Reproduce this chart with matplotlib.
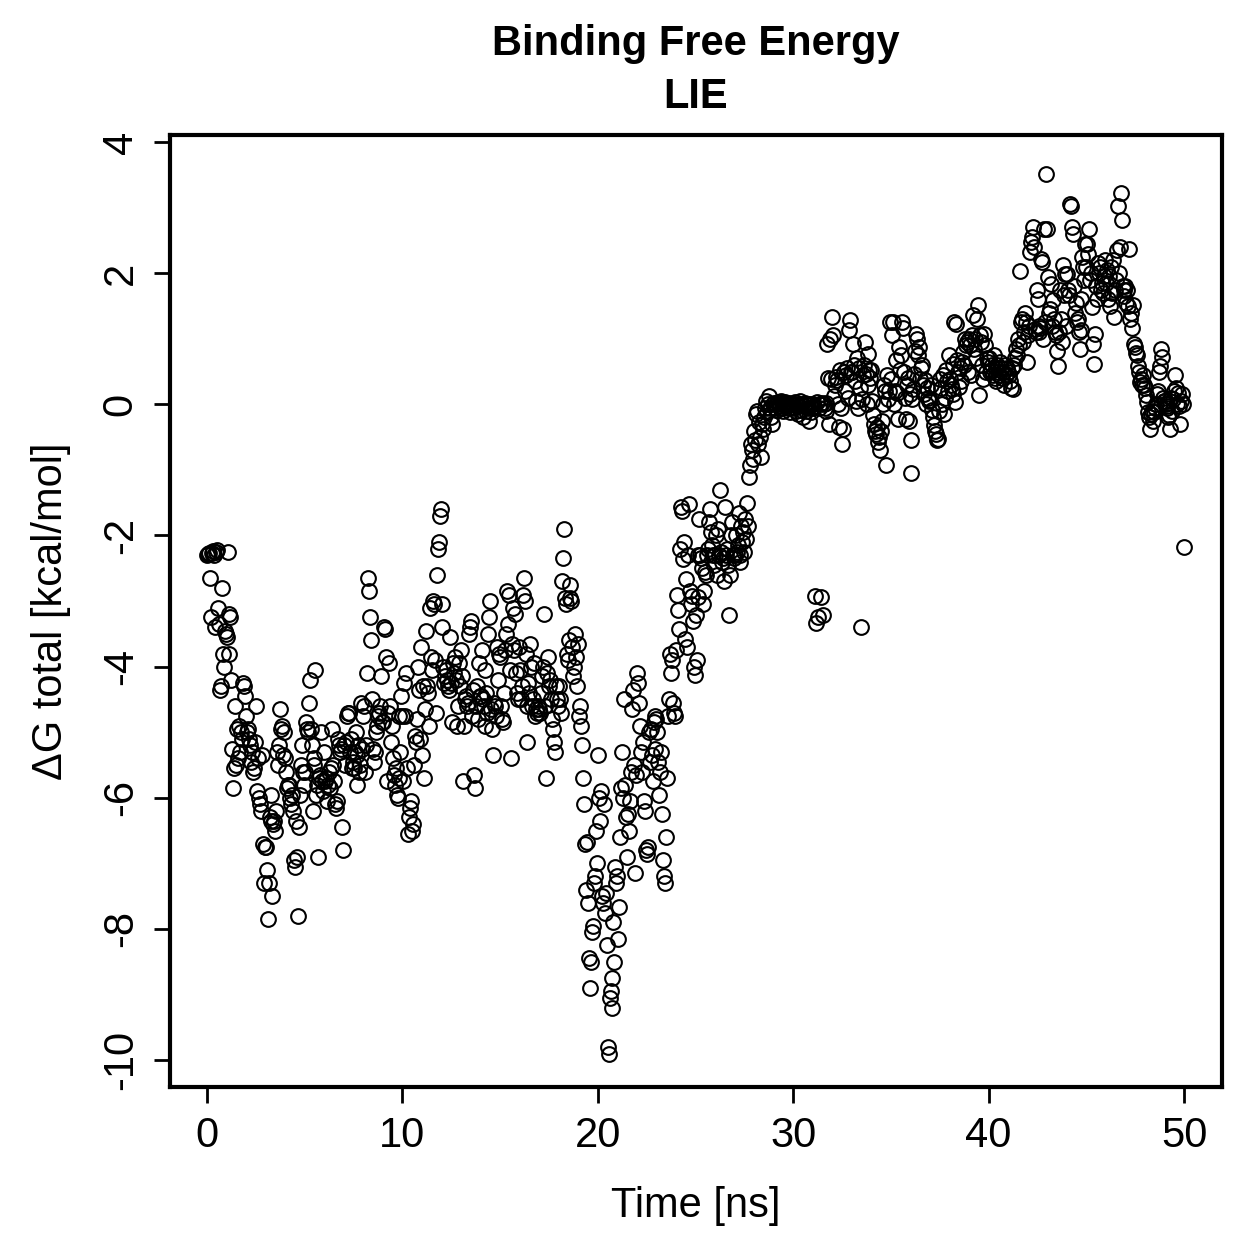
import numpy as np
import matplotlib
matplotlib.use('Agg')
import matplotlib.pyplot as plt

plt.rcParams['font.family'] = ['Liberation Sans', 'DejaVu Sans']
plt.rcParams['axes.unicode_minus'] = False

# LIE binding free energy, one frame every 0.05 ns (20 frames per ns)
dt_ns = 0.05

dg_0_10 = [
    -2.3, -2.28, -2.26, -2.65, -3.25, -2.27, -2.24, -2.3, -3.4, -2.25, -2.22, -3.1, -3.35, -4.35, -4.3, -2.8, -3.8, -4.0, -3.45, -3.5,
    -3.55, -2.25, -3.8, -3.2, -3.25, -4.2, -5.25, -5.85, -5.55, -4.6, -5.5, -4.95, -5.4, -4.9, -5.3, -5.0, -5.1, -4.25, -4.3, -4.45,
    -4.75, -5.0, -4.95, -5.1, -5.2, -5.45, -5.3, -5.6, -5.55, -5.15, -4.6, -5.9, -5.4, -6.0, -6.1, -6.2, -5.35, -6.7, -7.3, -6.75,
    -6.75, -7.1, -7.85, -7.3, -6.3, -5.95, -6.35, -7.5, -6.4, -6.35, -6.5, -6.2, -5.3, -5.5, -5.2, -4.65, -4.95, -4.9, -5.35, -5.0,
    -5.4, -5.6, -5.85, -5.8, -5.8, -6.0, -6.1, -5.95, -6.2, -6.95, -7.05, -6.35, -6.9, -7.8, -6.45, -5.95, -5.5, -5.2, -5.6, -5.8,
    -5.6, -4.85, -4.95, -5.0, -4.55, -4.2, -4.95, -5.2, -6.2, -5.5, -5.4, -4.05, -5.95, -5.8, -6.9, -5.7, -5.65, -5.0, -5.75, -5.9,
    -5.3, -5.75, -5.7, -6.05, -5.8, -5.6, -5.85, -5.55, -4.95, -5.5, -5.75, -6.1, -6.15, -6.05, -5.1, -5.2, -5.3, -5.25, -6.45, -6.8,
    -5.2, -5.5, -5.15, -4.75, -4.7, -4.7, -5.3, -5.1, -5.55, -5.45, -5.55, -5.3, -5.0, -5.8, -5.35, -5.2, -5.6, -5.5, -4.55, -5.25,
    -4.75, -4.6, -5.6, -5.2, -4.1, -2.65, -2.85, -3.25, -3.6, -4.5, -5.25, -5.45, -5.3, -5.0, -4.9, -4.75, -4.7, -4.6, -4.15, -4.85,
    -4.85, -3.4, -3.42, -3.85, -5.75, -4.7, -3.95, -4.6, -5.15, -4.9, -5.4, -5.65, -5.8, -5.55, -5.95, -6.0, -5.7, -4.75, -5.3, -4.45,
]

dg_10_20 = [
    -4.75, -5.75, -4.25, -4.75, -4.1, -5.55, -6.55, -6.3, -6.15, -6.05, -6.5, -6.4, -5.5, -5.05, -5.15, -4.8, -4.0, -4.35, -5.1, -3.7,
    -5.35, -4.3, -5.7, -4.65, -3.45, -4.3, -4.4, -4.9, -3.1, -3.85, -4.05, -3.0, -3.05, -3.9, -4.7, -2.6, -2.2, -2.1, -1.7, -1.6,
    -3.4, -3.05, -4.0, -4.25, -4.15, -4.05, -4.2, -4.3, -4.35, -3.55, -4.25, -4.85, -3.95, -4.1, -3.85, -4.2, -4.9, -4.6, -3.95, -4.3,
    -3.75, -4.15, -5.75, -4.9, -4.5, -4.45, -4.6, -4.55, -3.5, -3.4, -3.3, -4.75, -4.35, -5.65, -5.85, -4.6, -4.3, -4.8, -3.95, -4.45,
    -4.45, -3.75, -4.5, -4.6, -4.05, -4.9, -4.4, -4.7, -3.5, -3.25, -3.0, -4.65, -4.95, -5.35, -4.55, -4.6, -4.75, -3.7, -4.2, -3.8,
    -3.85, -4.6, -4.8, -4.85, -4.4, -3.75, -3.5, -2.85, -3.35, -2.9, -4.05, -5.4, -3.65, -3.1, -3.75, -3.2, -4.1, -4.4, -4.5, -3.7,
    -4.05, -4.5, -4.3, -2.9, -2.65, -3.0, -3.8, -4.6, -5.15, -4.25, -4.4, -3.65, -4.0, -4.6, -4.5, -3.95, -4.75, -4.65, -4.7, -4.6,
    -4.65, -4.7, -4.4, -4.15, -4.0, -3.2, -4.6, -5.7, -4.1, -3.85, -4.3, -4.2, -4.5, -4.8, -4.95, -5.15, -5.3, -4.3, -4.5, -4.6,
    -4.3, -4.5, -4.7, -2.7, -2.35, -1.9, -2.95, -3.05, -3.8, -3.9, -3.6, -2.95, -2.75, -3.0, -3.7, -4.15, -4.0, -3.5, -3.85, -4.3,
    -3.65, -4.75, -4.6, -4.9, -5.2, -5.7, -6.1, -6.7, -7.4, -6.68, -7.6, -8.45, -8.9, -8.5, -8.05, -7.95, -7.3, -7.2, -6.5, -7.0,
]

dg_20_30 = [
    -5.35, -6.0, -6.35, -5.9, -7.5, -7.6, -6.1, -7.75, -7.45, -8.25, -9.8, -9.9, -9.05, -8.95, -9.2, -8.75, -7.9, -8.5, -7.05, -7.3,
    -7.2, -8.15, -7.67, -6.6, -5.85, -5.3, -6.0, -4.5, -5.8, -6.3, -6.9, -6.25, -6.5, -6.05, -5.6, -4.65, -4.35, -5.5, -7.15, -5.65,
    -4.1, -4.25, -4.55, -4.9, -5.3, -5.6, -5.15, -6.05, -6.2, -6.8, -6.85, -6.75, -5.0, -5.45, -4.95, -5.35, -5.75, -4.85, -5.25, -4.75,
    -4.8, -5.0, -5.45, -5.95, -5.6, -5.3, -6.25, -6.95, -7.2, -7.3, -6.6, -5.7, -4.75, -4.5, -3.8, -4.1, -3.9, -4.55, -4.7, -4.75,
    -3.75, -2.9, -3.13, -3.43, -2.21, -1.57, -1.62, -2.36, -2.1, -3.58, -2.67, -3.7, -2.3, -1.52, -2.84, -3.05, -2.92, -3.3, -4.0, -4.13,
    -3.22, -3.9, -2.94, -2.3, -1.75, -2.3, -2.35, -2.5, -3.05, -2.84, -2.56, -2.6, -2.3, -2.2, -1.8, -1.6, -1.95, -2.15, -2.3, -2.45,
    -2.3, -2.0, -2.61, -1.9, -2.3, -1.3, -2.25, -2.4, -2.35, -2.69, -1.57, -2.3, -2.2, -2.45, -3.22, -2.6, -2.0, -1.8, -2.3, -2.35,
    -2.3, -2.0, -2.25, -2.15, -1.65, -2.3, -2.4, -1.85, -2.1, -1.95, -2.25, -1.75, -2.05, -1.5, -1.85, -1.11, -0.93, -0.61, -0.69, -0.84,
    -0.4, -0.55, -0.15, -0.1, -0.6, -0.27, -0.5, -0.8, -0.3, -0.38, -0.2, -0.05, 0.05, -0.12, 0.0, 0.12, -0.05, -0.2, -0.3, 0.0,
    0.02, -0.05, 0.0, -0.08, 0.03, 0.0, -0.02, 0.05, -0.05, 0.01, -0.1, 0.0, 0.03, -0.03, 0.0, -0.06, 0.02, -0.12, 0.0, -0.04,
]

dg_30_40 = [
    0.0, -0.05, 0.03, -0.1, 0.0, -0.15, -0.02, 0.05, -0.08, 0.0, -0.2, -0.03, 0.02, -0.1, 0.0, -0.05, -0.25, 0.0, -0.12, -0.05,
    0.0, -0.02, -2.92, -3.33, 0.03, -3.25, -0.05, 0.0, -2.94, 0.02, -3.22, 0.0, -0.05, 0.02, -0.1, 0.92, 0.4, -0.3, 0.99, 0.38,
    1.33, 1.05, 0.13, 0.3, 0.41, 0.37, 0.0, -0.35, 0.53, -0.05, -0.6, -0.37, 0.49, 0.2, 0.45, 0.55, 0.1, 1.14, 1.28, 0.5,
    0.49, 0.92, 0.6, 0.35, 0.05, 0.7, -0.05, 0.55, 0.25, -3.4, 0.08, 0.45, 0.6, 0.95, 0.46, 0.0, 0.76, 0.3, 0.52, 0.4,
    0.52, 0.05, -0.17, -0.3, -0.4, -0.45, -0.35, -0.58, -0.5, -0.7, -0.4, -0.25, 0.0, 0.3, 0.2, -0.93, 0.45, 0.08, 0.21, 1.25,
    0.38, 1.05, 1.25, 0.0, 0.21, 0.67, 0.18, -0.23, 0.87, 0.52, 0.75, 1.25, 1.17, 0.49, 0.1, -0.23, 0.3, 0.4, -0.25, 0.15,
    -1.04, -0.55, 0.08, 0.23, 0.46, 0.82, 1.07, 0.99, 0.75, 0.87, 0.38, 0.55, 0.6, 0.3, 0.15, 0.37, 0.0, 0.25, 0.1, 0.05,
    0.06, 0.3, -0.08, -0.2, -0.32, -0.4, -0.46, -0.55, -0.53, -0.1, 0.38, 0.25, 0.0, 0.44, -0.15, 0.1, 0.52, 0.35, 0.2, 0.75,
    0.38, 0.3, 0.23, 0.61, 0.15, 1.25, 0.03, 1.22, 0.67, 0.49, 0.26, 0.55, 0.35, 0.65, 0.8, 0.6, 1.0, 0.9, 0.95, 0.5,
    0.99, 0.9, 0.44, 1.05, 1.36, 0.85, 1.0, 0.7, 1.3, 1.51, 0.14, 1.05, 0.95, 0.6, 0.38, 1.07, 0.9, 0.5, 0.7, 0.65,
]

dg_40_50 = [
    0.7, 0.5, 0.53, 0.6, 0.45, 0.75, 0.4, 0.55, 0.35, 0.6, 0.5, 0.45, 0.65, 0.55, 0.4, 0.5, 0.3, 0.6, 0.45, 0.55,
    0.5, 0.45, 0.35, 0.25, 0.55, 0.23, 0.6, 0.7, 0.85, 0.75, 1.0, 0.9, 2.04, 1.25, 1.3, 0.95, 1.1, 1.4, 1.25, 0.64,
    1.05, 1.2, 2.32, 2.47, 2.55, 2.7, 2.4, 1.15, 1.1, 1.75, 1.6, 1.2, 1.1, 1.17, 2.21, 2.17, 1.0, 2.67, 1.25, 3.51,
    2.67, 1.94, 1.4, 1.45, 1.83, 1.2, 1.59, 1.3, 1.1, 1.05, 0.82, 0.59, 1.1, 1.75, 1.3, 0.95, 2.13, 1.66, 1.98, 1.2,
    1.98, 1.75, 1.66, 3.05, 3.03, 2.7, 2.59, 1.81, 1.4, 1.55, 1.25, 1.3, 1.1, 0.85, 1.14, 1.6, 2.24, 2.09, 1.9, 2.44,
    2.09, 2.44, 2.29, 2.67, 1.9, 2.0, 1.48, 0.92, 0.61, 1.07, 1.8, 1.6, 2.15, 2.0, 2.1, 1.75, 1.85, 1.7, 1.95, 2.2,
    1.85, 2.05, 1.6, 1.95, 1.5, 2.1, 1.7, 2.2, 1.33, 1.75, 1.9, 2.35, 3.03, 2.0, 2.4, 3.23, 2.81, 1.8, 1.65, 1.75,
    1.8, 1.55, 1.75, 1.5, 2.37, 1.3, 1.4, 1.17, 1.51, 0.92, 0.88, 0.79, 0.75, 0.59, 0.49, 0.34, 0.38, 0.29, 0.45, 0.3,
    0.25, 0.14, 0.03, -0.12, -0.2, -0.38, -0.15, -0.1, -0.25, -0.12, -0.05, 0.0, 0.15, 0.2, 0.49, 0.59, 0.84, 0.72, 0.1, 0.05,
    0.05, 0.0, -0.02, -0.05, -0.2, -0.17, -0.38, 0.1, -0.1, 0.08, 0.2, 0.44, 0.25, 0.0, 0.18, -0.02, -0.3, 0.05, 0.15, 0.0,
]

dg_last = [-2.18]

x_ticks = [0, 10, 20, 30, 40, 50]
y_ticks = [-10, -8, -6, -4, -2, 0, 2, 4]

dg_total = np.array(dg_0_10 + dg_10_20 + dg_20_30 + dg_30_40 + dg_40_50 + dg_last)
time_ns = np.arange(len(dg_total)) * dt_ns

W = 1259.0
fig = plt.figure(figsize=(12.59, 12.59), dpi=100)
ax = fig.add_axes([170 / W, 1 - 1087 / W, 1052 / W, 952 / W])

ax.plot(time_ns, dg_total, ls='none', marker='o', mfc='none', mec='black',
        ms=10.6, mew=1.5)

ax.set_xlim(-1.894, 51.94)
ax.set_ylim(-10.41, 4.107)
ax.set_xticks(x_ticks)
ax.set_yticks(y_ticks)
ax.tick_params(direction='out', length=11.5, width=2.0, labelsize=30, pad=9.5,
               top=False, right=False)
for lab in ax.get_yticklabels():
    lab.set_rotation(90)
    lab.set_va('center')
for sp in ax.spines.values():
    sp.set_linewidth(3.0)

cx = 696 / W
fig.text(cx, 1 - 55 / W, 'Binding Free Energy', ha='center', va='baseline',
         fontsize=30, fontweight='bold')
fig.text(cx, 1 - 108 / W, 'LIE', ha='center', va='baseline',
         fontsize=30, fontweight='bold')
fig.text(cx, 1 - 1217 / W, 'Time [ns]', ha='center', va='baseline', fontsize=30)
fig.text(62 / W, 1 - 611 / W, 'ΔG total [kcal/mol]', rotation=90,
         rotation_mode='anchor', ha='center', va='baseline', fontsize=30)

fig.savefig('out.png', dpi=100)
